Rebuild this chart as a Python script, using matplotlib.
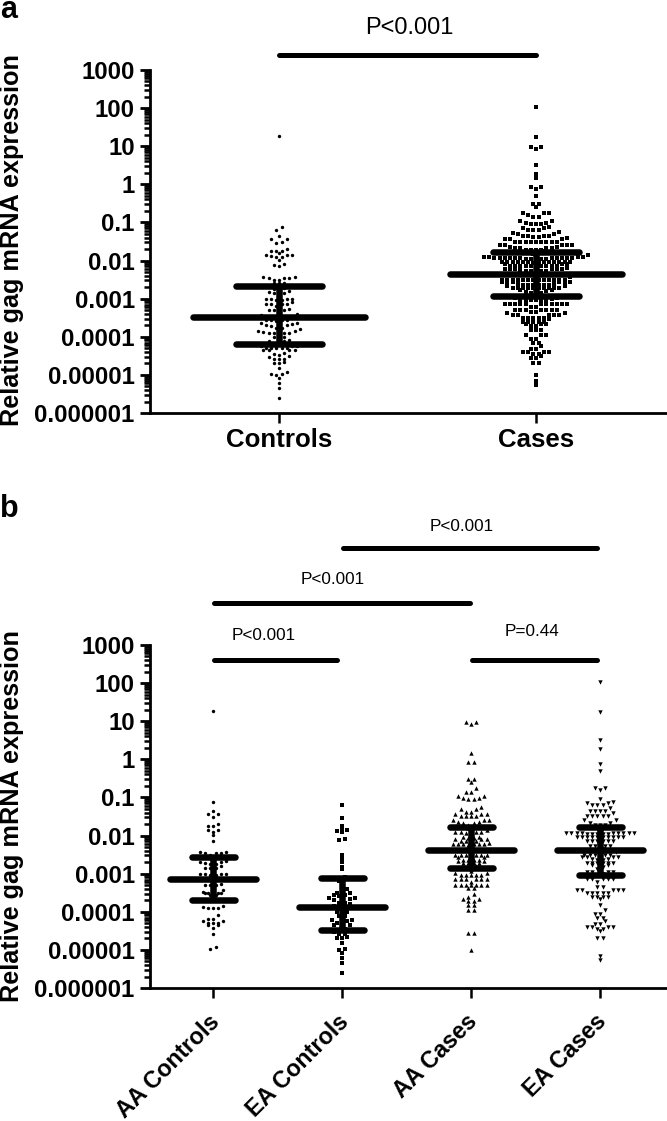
import numpy as np
import matplotlib
matplotlib.use('Agg')
import matplotlib.pyplot as plt
from matplotlib.ticker import FixedLocator, NullFormatter
from matplotlib.transforms import ScaledTranslation

plt.rcParams['font.family'] = ['Liberation Sans', 'DejaVu Sans']

# values are log10(relative expression)
aa_controls = [1.27, -1.13, -1.36, -1.44, -1.44, -1.51, -1.70, -1.75, -1.75, -1.86, -1.86, -1.90, -1.98, -2.13,
               -2.44, -2.45, -2.45, -2.46, -2.44, -2.52, -2.58, -2.58, -2.66, -2.69, -2.69, -2.72, -2.75, -2.75,
               -2.80, -2.86, -2.86, -2.86, -3.00, -3.01, -3.01, -3.02, -3.03, -3.03, -3.13, -3.13, -3.13, -3.13,
               -3.28, -3.31, -3.31, -3.31, -3.44, -3.47, -3.50, -3.50, -3.50, -3.52, -3.52, -3.56, -3.56, -3.68,
               -3.72, -3.85, -3.87, -3.90, -3.90, -3.91, -4.09, -4.20, -4.20, -4.25, -4.25, -4.30, -4.30, -4.30,
               -4.36, -4.36, -4.42, -4.58, -4.93, -4.97]
ea_controls = [-1.21, -1.54, -1.75, -1.81, -1.86, -1.87, -1.90, -2.10, -2.12, -2.51, -2.60, -2.69, -2.82, -2.88,
               -3.10, -3.20, -3.30, -3.40, -3.50, -3.50, -3.52, -3.56, -3.56, -3.58, -3.65, -3.65, -3.67, -3.68,
               -3.78, -3.78, -3.80, -3.85, -3.90, -3.92, -4.00, -4.00, -4.02, -4.11, -4.11, -4.22, -4.22, -4.25,
               -4.30, -4.30, -4.36, -4.36, -4.45, -4.48, -4.50, -4.52, -4.57, -4.57, -4.67, -4.70, -4.70, -4.83,
               -4.98, -5.00, -5.08, -5.21, -5.34, -5.60]
aa_cases = [0.97, 0.97, 0.92, 0.165, -0.07, -0.07, -0.52, -0.52, -0.59, -0.75, -0.85, -0.85, -0.96, -0.96, -1.02,
            -1.02, -1.03, -1.03, -1.24, -1.30, -1.30, -1.37, -1.37, -1.44, -1.44, -1.44, -1.50, -1.50, -1.50,
            -1.50, -1.58, -1.58, -1.60, -1.64, -1.64, -1.66, -1.66, -1.72, -1.76, -1.80,
            -1.85, -1.90, -1.90, -1.90, -1.90, -1.92, -1.92, -2.05, -2.05, -2.06, -2.07, -2.09,
            -2.09, -2.10, -2.13, -2.13, -2.13, -2.13, -2.20, -2.22, -2.22, -2.22, -2.22,
            -2.22, -2.22, -2.24, -2.35, -2.38, -2.40, -2.51,
            -2.51, -2.51, -2.51, -2.51, -2.51, -2.52, -2.55, -2.55, -2.64, -2.64, -2.64, -2.64, -2.66, -2.68,
            -2.71, -2.71, -2.71, -2.71, -2.80, -2.84, -2.86, -2.88, -2.92, -2.97, -2.97,
            -3.03, -3.03, -3.03, -3.03, -3.04, -3.15, -3.15, -3.15, -3.15, -3.15, -3.15, -3.22, -3.30, -3.30,
            -3.30, -3.30, -3.30, -3.30, -3.30, -3.37, -3.37, -3.54, -3.60, -3.67, -3.67, -3.72, -3.72, -3.82,
            -3.82, -3.95, -3.95, -4.55, -4.55, -5.00]
ea_cases = [2.04, 1.25, 0.51, 0.26, -0.12, -0.30, -0.75, -0.75, -0.81, -1.03, -1.12, -1.14, -1.14, -1.20, -1.20,
            -1.20, -1.29, -1.35, -1.35, -1.35, -1.35, -1.42, -1.50, -1.50, -1.50, -1.50, -1.50, -1.58, -1.58,
            -1.66, -1.66, -1.72, -1.72, -1.72, -1.78, -1.82, -1.92, -1.92, -1.92, -1.92, -1.93,
            -1.93, -1.93, -1.94, -1.94, -1.95, -1.95, -1.95, -1.95, -1.95, -2.04, -2.04, -2.04, -2.04, -2.05,
            -2.05, -2.05, -2.05, -2.05, -2.05, -2.14, -2.14, -2.14, -2.14, -2.14, -2.14, -2.27, -2.27, -2.28,
            -2.28, -2.30, -2.34, -2.38, -2.42, -2.51, -2.51, -2.51, -2.51,
            -2.51, -2.51, -2.57, -2.57, -2.57, -2.57, -2.62, -2.62, -2.63, -2.63, -2.71, -2.71, -2.71, -2.71,
            -2.71, -2.71, -2.77, -2.77, -2.83, -2.87, -2.95, -2.95, -2.95, -2.95, -3.00, -3.04,
            -3.15, -3.15, -3.15, -3.15, -3.15, -3.21, -3.34, -3.34, -3.43, -3.43, -3.43, -3.43,
            -3.43, -3.50, -3.50, -3.50, -3.50, -3.50, -3.60, -3.60, -3.60, -3.60, -3.66, -3.82, -3.95, -4.06,
            -4.06, -4.16, -4.16, -4.23, -4.32, -4.32, -4.39, -4.39, -4.39, -4.39, -4.44, -4.44, -4.50, -4.68,
            -4.68, -5.16, -5.27]

# median, upper, lower (log10)
bars_a = [(-3.48, -2.67, -4.19), (-2.35, -1.77, -2.94)]
bars_b = [(-3.13, -2.57, -3.69), (-3.88, -3.115, -4.48), (-2.38, -1.77, -2.85), (-2.38, -1.785, -3.04)]

labels_a = ['Controls', 'Cases']
labels_b = ['AA Controls', 'EA Controls', 'AA Cases', 'EA Cases']
y_ticks = [1000, 100, 10, 1, 0.1, 0.01, 0.001, 0.0001, 0.00001, 0.000001]
y_tick_labels = ['1000', '100', '10', '1', '0.1', '0.01', '0.001', '0.0001', '0.00001', '0.000001']

W, H = 667, 1121
SLOT_PX = 5.2


def row_id(v):
    # rows are spaced wider in the tails than around the bars
    if v > -1.85:
        return ('top', np.floor(v / 0.175))
    if v > -2.9:
        return ('mid', np.floor(v / 0.115))
    return ('low', np.floor(v / 0.14))


def swarm_offsets(logs):
    # rows of points, lowest value in the middle, then out to both sides
    logs = np.array(logs)
    out = np.zeros(len(logs))
    rows = {}
    for i, v in enumerate(logs):
        rows.setdefault(row_id(v), []).append(i)
    for members in rows.values():
        idx = np.array(members)
        idx = idx[np.argsort(logs[idx])]
        n = len(idx)
        for i, k in enumerate(idx):
            if n % 2:
                out[k] = ((i + 1) // 2) * (-1 if i % 2 else 1)
            else:
                out[k] = (i // 2 + 0.5) * (-1 if i % 2 == 0 else 1)
    return out


def make_axes(fig, top, bottom):
    ax = fig.add_axes([150 / W, 1 - bottom / H, (W - 150) / W, (bottom - top) / H])
    ax.set_yscale('log')
    ax.set_ylim(1e-6, 1e3)
    for s in ['top', 'right']:
        ax.spines[s].set_visible(False)
    for s in ['left', 'bottom']:
        ax.spines[s].set_linewidth(2.0)
    ax.yaxis.set_major_locator(FixedLocator(y_ticks))
    ax.yaxis.set_minor_locator(FixedLocator([m * 10.0 ** e for e in range(-6, 3) for m in range(2, 10)]))
    ax.yaxis.set_minor_formatter(NullFormatter())
    ax.set_yticklabels(y_tick_labels, fontsize=17.3, fontweight='bold')
    ax.tick_params(axis='y', which='major', length=7.5, width=2.0, pad=3.5)
    ax.tick_params(axis='y', which='minor', length=4.5, width=1.8)
    ax.tick_params(axis='x', which='major', length=7.5, width=1.8)
    return ax


def draw_group(ax, pos, logs, marker, size, slot, stats):
    xs = pos + swarm_offsets(logs) * slot
    ax.scatter(xs, 10.0 ** np.array(logs), marker=marker, s=size, c='black', linewidths=0, zorder=2, clip_on=False)
    med, up, lo = stats
    lw = 4.7
    ax.plot([pos, pos], [10.0 ** lo, 10.0 ** up], c='black', lw=lw, solid_capstyle='butt', zorder=3)
    ax.plot([pos - 1 / 3, pos + 1 / 3], [10.0 ** med] * 2, c='black', lw=lw, solid_capstyle='round', zorder=3)
    for v in (up, lo):
        ax.plot([pos - 1 / 6, pos + 1 / 6], [10.0 ** v] * 2, c='black', lw=lw, solid_capstyle='round', zorder=3)


def sig_bar(ax, x0, x1, frac):
    ax.plot([x0, x1], [frac, frac], c='black', lw=3.6, solid_capstyle='round',
            transform=ax.get_xaxis_transform(), clip_on=False, zorder=4)


fig = plt.figure(figsize=(W / 100, H / 100), dpi=100)

# panel a
ax_a = make_axes(fig, 70, 413)
ax_a.set_xlim((150 - 279) / 257, (W - 279) / 257)
slot_a = SLOT_PX / 257
draw_group(ax_a, 0, aa_controls + ea_controls, 'o', 6, slot_a, bars_a[0])
draw_group(ax_a, 1, aa_cases + ea_cases, 's', 8.5, slot_a, bars_a[1])
ax_a.set_xticks([0, 1])
ax_a.set_xticklabels(labels_a, fontsize=18.6, fontweight='bold')
ax_a.tick_params(axis='x', pad=3.5)
sig_bar(ax_a, 0.0, 1.0, 1.045)

# panel b
ax_b = make_axes(fig, 645, 988)
ax_b.set_xlim((150 - 213) / 129, (W - 213) / 129)
slot_b = SLOT_PX / 129
draw_group(ax_b, 0, aa_controls, 'o', 6, slot_b, bars_b[0])
draw_group(ax_b, 1, ea_controls, 's', 7.5, slot_b, bars_b[1])
draw_group(ax_b, 2, aa_cases, '^', 10, slot_b, bars_b[2])
draw_group(ax_b, 3, ea_cases, 'v', 10, slot_b, bars_b[3])
ax_b.set_xticks([0, 1, 2, 3])
ax_b.set_xticklabels(labels_b, fontsize=16.8, fontweight='bold', rotation=45, ha='right', rotation_mode='anchor')
ax_b.tick_params(axis='x', pad=8.5)
shift = ScaledTranslation(-5 / 100, 0, fig.dpi_scale_trans)
for lab in ax_b.get_xticklabels():
    lab.set_transform(lab.get_transform() + shift)
sig_bar(ax_b, 1.01, 2.98, 1.2837)
sig_bar(ax_b, 0.01, 1.99, 1.1224)
sig_bar(ax_b, 0.01, 0.96, 0.9577)
sig_bar(ax_b, 2.01, 2.98, 0.9577)


# texts, positions in pixels of the figure
def px_text(x, y, s, **kw):
    fig.text(x / W, 1 - y / H, s, **kw)


center = dict(ha='center', va='center')
px_text(409, 28, 'P<0.001', fontsize=17, **center)
px_text(462, 526, 'P<0.001', fontsize=12.3, **center)
px_text(333, 580, 'P<0.001', fontsize=12.3, **center)
px_text(264, 635, 'P<0.001', fontsize=12.3, **center)
px_text(532, 632, 'P=0.44', fontsize=12.3, **center)
px_text(12, 240, 'Relative gag mRNA expression', fontsize=18.2, fontweight='bold', rotation=90, **center)
px_text(12, 816, 'Relative gag mRNA expression', fontsize=18.2, fontweight='bold', rotation=90, **center)
px_text(0, 18, 'a', fontsize=22, fontweight='bold', ha='left', va='baseline')
px_text(0, 517, 'b', fontsize=22, fontweight='bold', ha='left', va='baseline')

fig.savefig('out.png', dpi=100)
